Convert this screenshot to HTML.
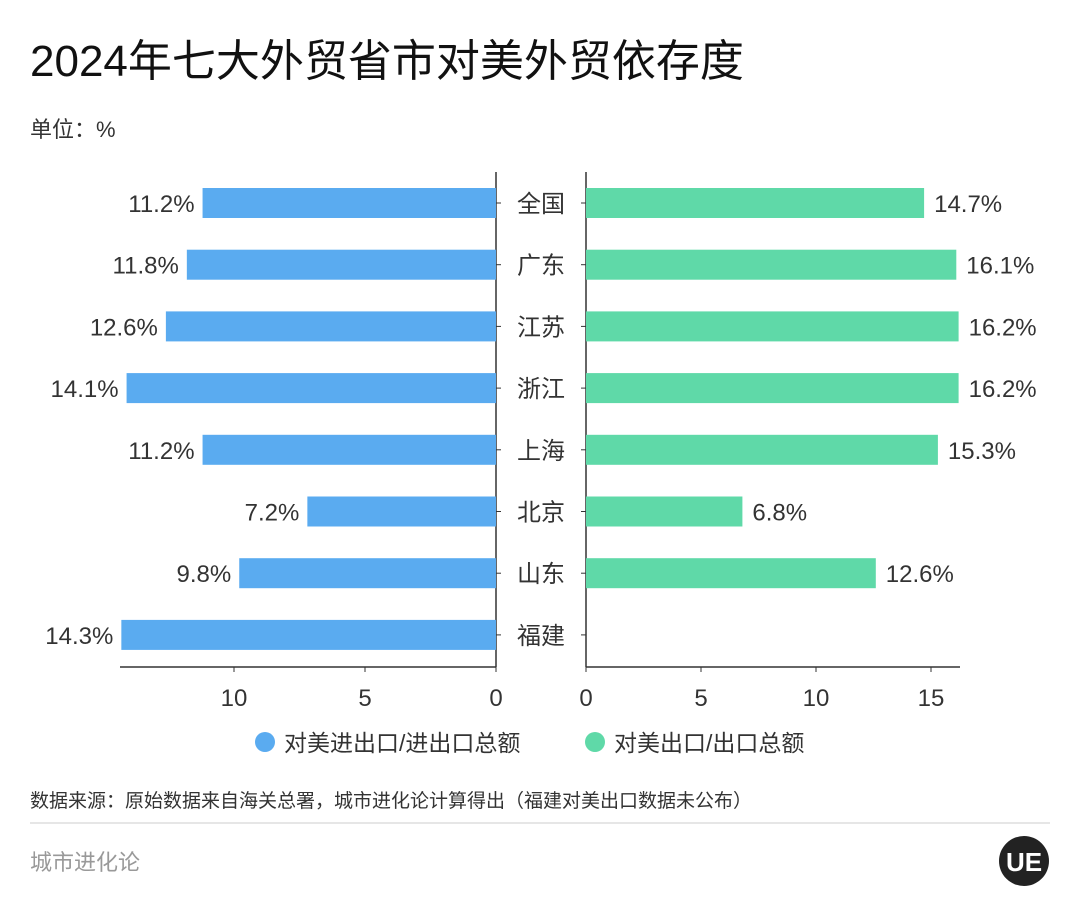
<!DOCTYPE html>
<html><head><meta charset="utf-8">
<style>
body{margin:0;background:#fff;font-family:"Liberation Sans","Noto Sans CJK SC",sans-serif;}
#wrap{position:relative;width:1080px;height:918px;overflow:hidden;}
</style></head>
<body>
<div id="wrap">
<svg id="chart" width="1080" height="918" xmlns="http://www.w3.org/2000/svg">
<text x="30" y="76" font-size="44" fill="#111" font-family="Liberation Sans,Noto Sans CJK SC,sans-serif">2024年七大外贸省市对美外贸依存度</text>
<text x="30" y="137" font-size="22" fill="#333" font-family="Liberation Sans,Noto Sans CJK SC,sans-serif">单位：%</text>
<g id="plot"></g>
<circle cx="265" cy="742" r="10" fill="#5aabf0"/>
<text x="284" y="751" font-size="23" fill="#333" font-family="Liberation Sans,Noto Sans CJK SC,sans-serif">对美进出口/进出口总额</text>
<circle cx="595" cy="742" r="10" fill="#5fd9a8"/>
<text x="614" y="751" font-size="23" fill="#333" font-family="Liberation Sans,Noto Sans CJK SC,sans-serif">对美出口/出口总额</text>
<text x="30" y="807" font-size="19" fill="#333" font-family="Liberation Sans,Noto Sans CJK SC,sans-serif">数据来源：原始数据来自海关总署，城市进化论计算得出（福建对美出口数据未公布）</text>
<line x1="30" y1="823" x2="1050" y2="823" stroke="#ccc" stroke-width="1"/>
<text x="30" y="870" font-size="22" fill="#999" font-family="Liberation Sans,Noto Sans CJK SC,sans-serif">城市进化论</text>
<circle cx="1024" cy="861" r="25" fill="#222"/>
<text x="1024" y="871" font-size="26" fill="#fff" text-anchor="middle" font-weight="bold" font-family="Liberation Sans,sans-serif">UE</text>
</svg>
</div>
<script>
const categories=["全国","广东","江苏","浙江","上海","北京","山东","福建"];
const importExportShare=[11.2,11.8,12.6,14.1,11.2,7.2,9.8,14.3];
const exportShare=[14.7,16.1,16.2,16.2,15.3,6.8,12.6,null];
const leftTicks=[10,5,0];
const rightTicks=[0,5,10,15];

const NS="http://www.w3.org/2000/svg";
const plot=document.getElementById('plot');
const F='Liberation Sans,Noto Sans CJK SC,sans-serif';
const L0=496,LS=26.2,R0=586,RS=23.0;
const xl=v=>L0-v*LS, xr=v=>R0+v*RS;
const y0=203,step=61.7,yc=i=>y0+i*step;
const bh=30,axisY=667;
function mk(tag,attrs){const e=document.createElementNS(NS,tag);for(const k in attrs)e.setAttribute(k,attrs[k]);plot.appendChild(e);return e;}
function txt(x,y,s,size,anchor){const t=mk('text',{x:x,y:y,'font-size':size,fill:'#333','text-anchor':anchor,'font-family':F});t.textContent=s;return t;}

let e;
e=mk('line',{x1:L0,y1:172,x2:L0,y2:axisY,stroke:'#333','stroke-width':1.5});


e=mk('line',{x1:R0,y1:172,x2:R0,y2:axisY,stroke:'#333','stroke-width':1.5});


e=mk('line',{x1:120,y1:axisY,x2:L0,y2:axisY,stroke:'#333','stroke-width':1.5});


e=mk('line',{x1:R0,y1:axisY,x2:960,y2:axisY,stroke:'#333','stroke-width':1.5});



leftTicks.forEach(t=>{
  e=mk('line',{x1:xl(t),y1:axisY,x2:xl(t),y2:axisY+5,stroke:'#333'});
  
  
  e=txt(xl(t),706,String(t),24,'middle');
  
  
});
rightTicks.forEach(t=>{
  e=mk('line',{x1:xr(t),y1:axisY,x2:xr(t),y2:axisY+5,stroke:'#333'});
  
  
  e=txt(xr(t),706,String(t),24,'middle');
  
  
});

categories.forEach((c,i)=>{
  const y=yc(i);
  e=mk('line',{x1:L0,y1:y,x2:L0+5,y2:y,stroke:'#333'});
  
  
  e=mk('line',{x1:R0-5,y1:y,x2:R0,y2:y,stroke:'#333'});
  
  
  e=txt((L0+R0)/2,y+9,c,24,'middle');
  
  
  const a=importExportShare[i];
  e=mk('rect',{x:xl(a),y:y-bh/2,width:L0-xl(a),height:bh,fill:'#5aabf0'});
  
  
  e=txt(xl(a)-8,y+9,a.toFixed(1)+'%',24,'end');
  
  
  const b=exportShare[i];
  if(b!=null){
    e=mk('rect',{x:R0,y:y-bh/2,width:xr(b)-R0,height:bh,fill:'#5fd9a8'});
    
    
    e=txt(xr(b)+10,y+9,b.toFixed(1)+'%',24,'start');
    
    
  }
});
</script>
</body></html>
